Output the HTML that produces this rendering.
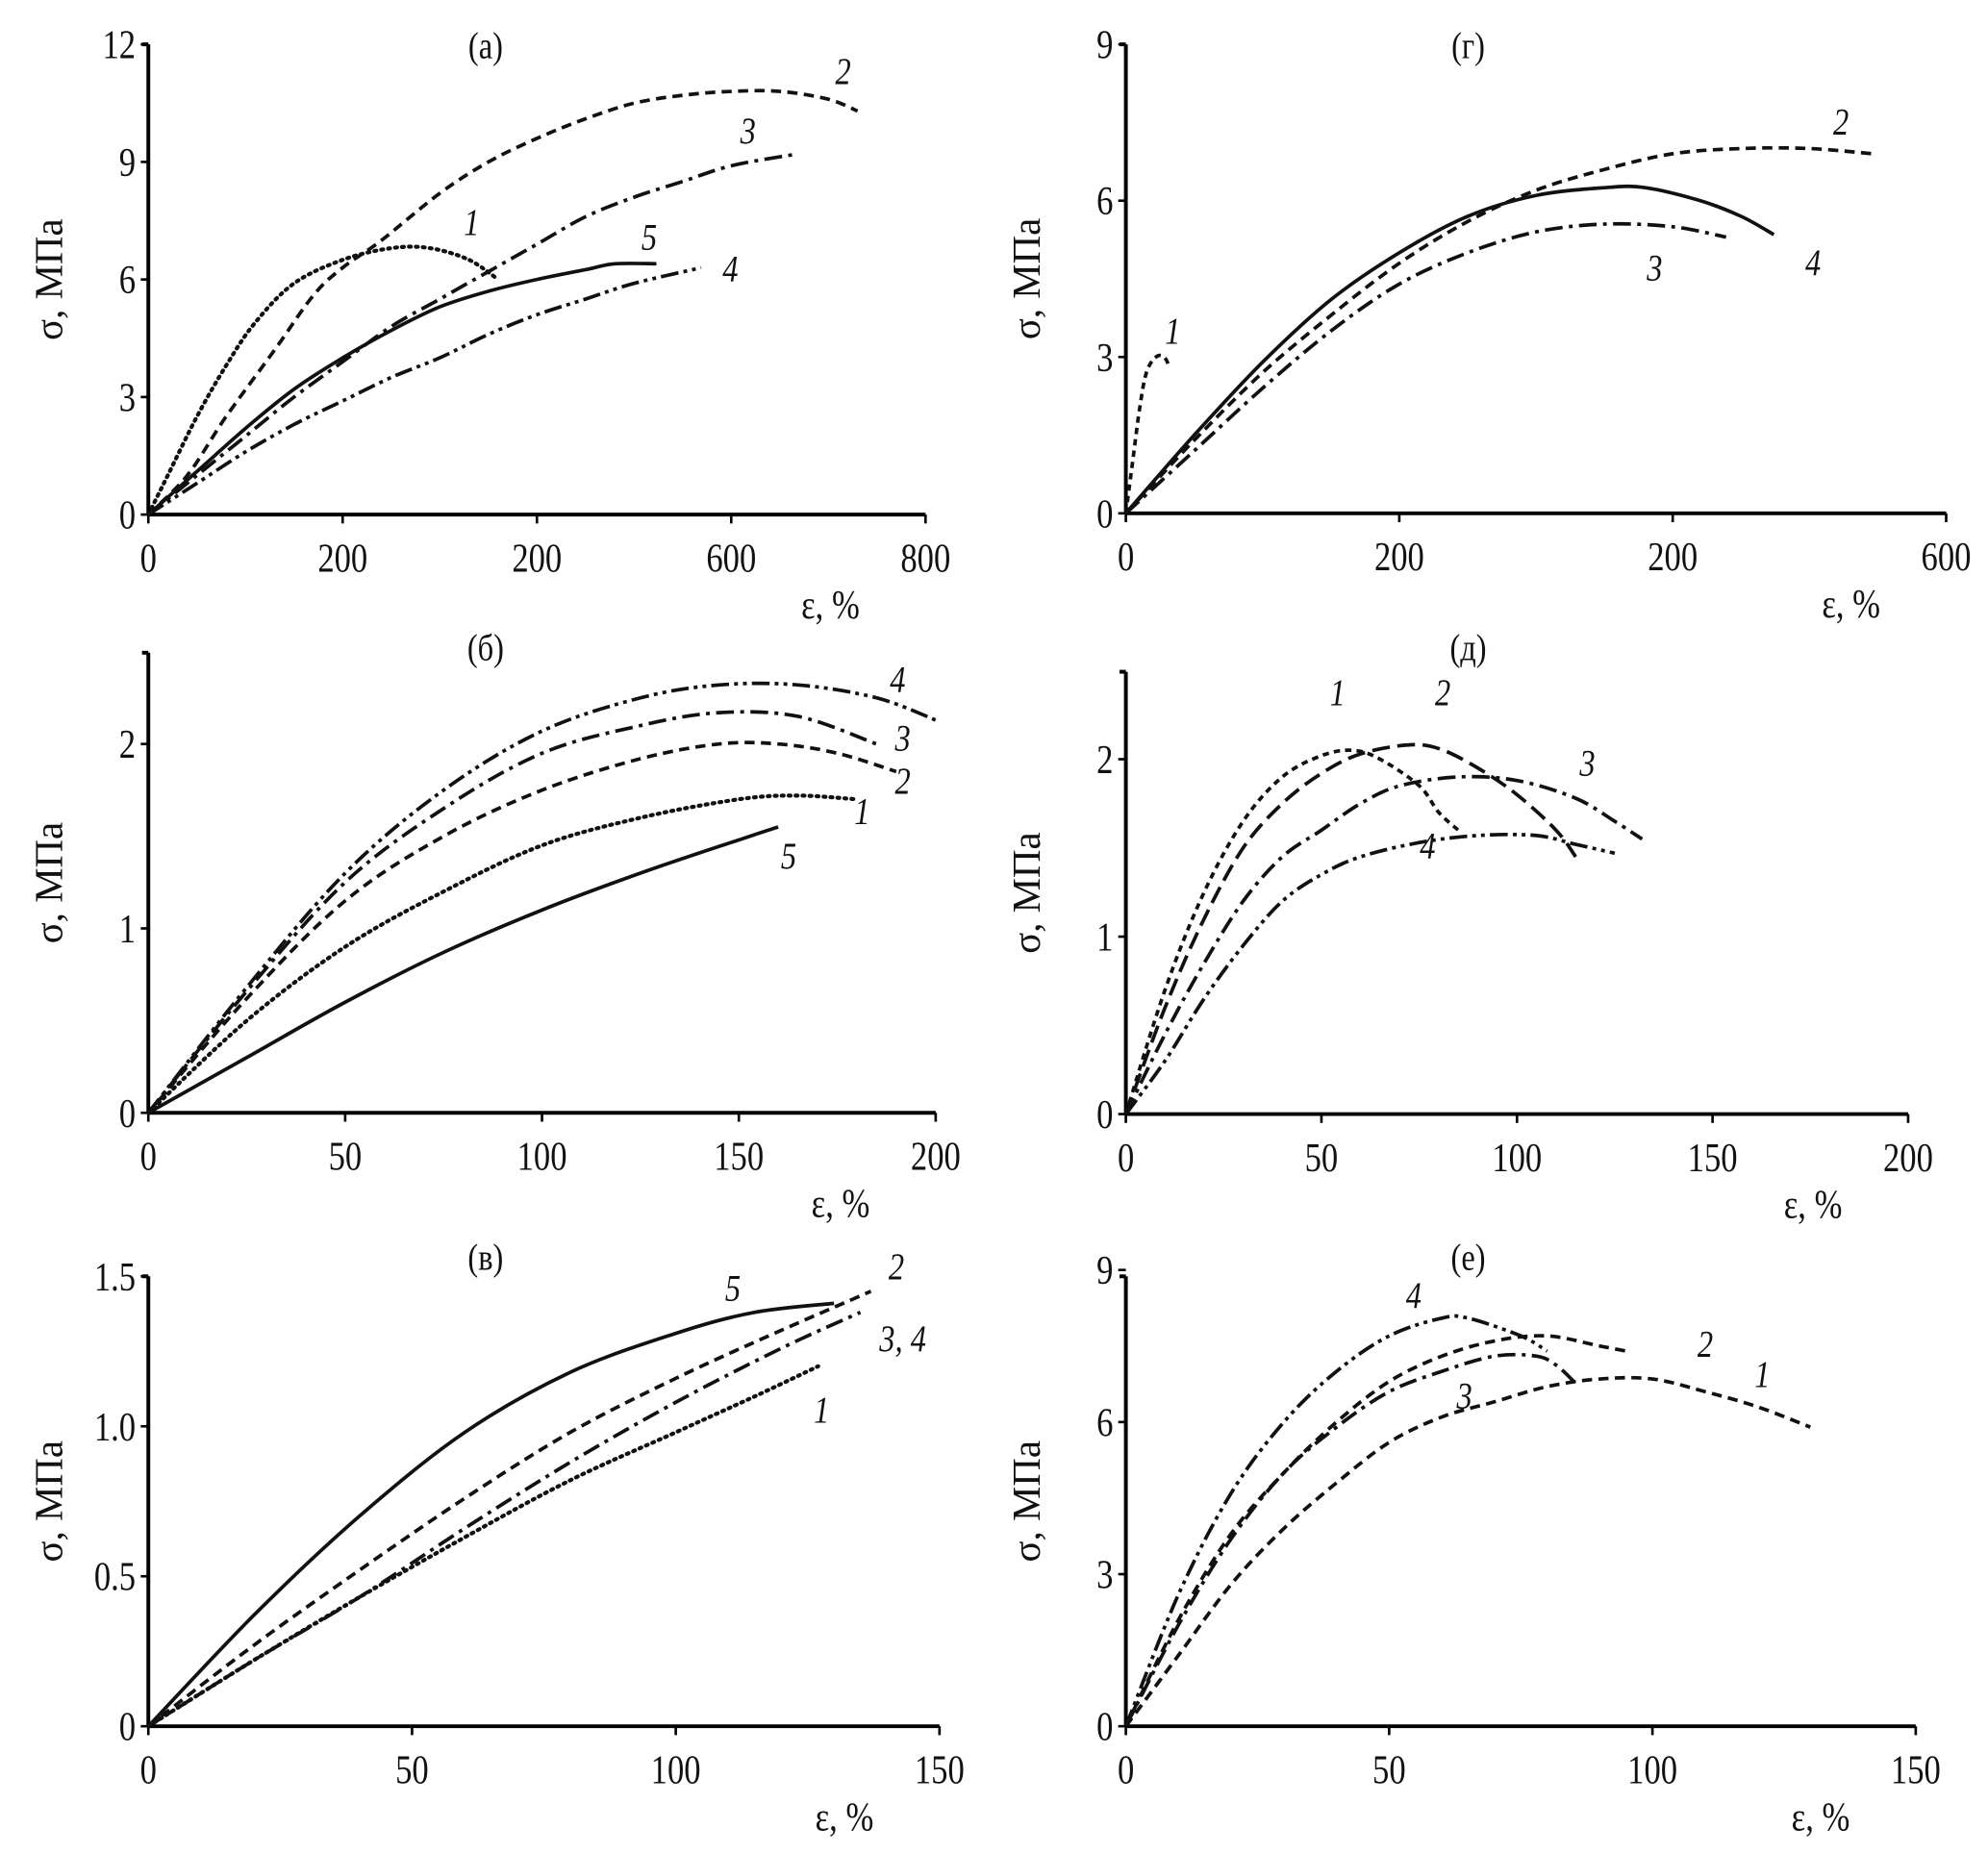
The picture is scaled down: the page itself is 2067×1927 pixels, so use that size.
<!DOCTYPE html>
<html><head><meta charset="utf-8"><style>
html,body{margin:0;padding:0;background:#fff}
svg{display:block}
text{font-family:"Liberation Serif",serif;fill:#111}
</style></head><body>
<svg id="fig" width="2067" height="1927" viewBox="0 0 1568 1462" preserveAspectRatio="none" xmlns="http://www.w3.org/2000/svg"></svg>
<script>
// ---- data ----
const aX1=[0,20,50,80,110,150,200,250,290,330,360], aY1=[0,1,2.5,3.8,4.9,5.9,6.5,6.8,6.8,6.5,6.0];
const aX2=[0,40,80,130,170,200,240,300,350,400,450,500,550,600,650,700,730], aY2=[0,1,2.5,4.2,5.6,6.3,7,8.2,9.0,9.6,10.1,10.5,10.7,10.8,10.8,10.6,10.3];
const aX3=[0,50,100,150,200,250,300,350,400,450,500,550,600,667], aY3=[0,1,2,3,3.9,4.8,5.5,6.2,6.9,7.6,8.1,8.5,8.9,9.2];
const aX4=[0,50,100,150,200,250,300,350,400,450,500,569], aY4=[0,0.8,1.6,2.3,2.9,3.5,4.0,4.6,5.1,5.5,5.9,6.3];
const aX5=[0,50,100,150,200,250,300,350,400,450,480,523], aY5=[0,1.1,2.2,3.2,4.0,4.7,5.3,5.7,6.0,6.25,6.4,6.4];
const gX1=[0,5,10,15,22,28,32], gY1=[0,1,2,2.7,3.0,3.0,2.8];
const gX2=[0,50,100,150,200,250,300,350,400,450,500,546], gY2=[0,1.4,2.7,3.8,4.8,5.6,6.2,6.6,6.9,7.0,7.0,6.9];
const gX3=[0,50,100,150,200,250,300,350,400,439], gY3=[0,1.2,2.4,3.5,4.4,5.0,5.4,5.55,5.5,5.3];
const gX4=[0,50,100,150,200,250,300,350,380,420,450,474], gY4=[0,1.5,2.9,4.1,5.0,5.7,6.1,6.25,6.25,6.0,5.7,5.35];
const bX1=[0,25,50,75,100,125,150,165,180], bY1=[0,0.5,0.9,1.2,1.45,1.6,1.7,1.72,1.7];
const bX2=[0,25,50,75,100,125,145,160,175,190], bY2=[0,0.62,1.15,1.5,1.75,1.92,2.0,2.0,1.95,1.85];
const bX3=[0,25,50,75,100,125,145,165,185], bY3=[0,0.66,1.25,1.65,1.95,2.1,2.17,2.15,2.0];
const bX4=[0,25,50,75,100,125,145,165,185,200], bY4=[0,0.68,1.3,1.75,2.07,2.25,2.32,2.32,2.25,2.13];
const bX5=[0,25,50,75,100,125,150,160], bY5=[0,0.3,0.6,0.87,1.1,1.3,1.48,1.55];
const dX1=[0,10,20,30,40,50,58,65,75,80,85], dY1=[0,0.7,1.25,1.65,1.9,2.02,2.05,2.0,1.85,1.7,1.6];
const dX2=[0,10,20,30,40,50,60,72,80,90,100,110,115], dY2=[0,0.6,1.1,1.5,1.75,1.92,2.03,2.08,2.06,1.95,1.8,1.6,1.45];
const dX3=[0,10,20,30,40,50,60,70,85,100,115,125,132], dY3=[0,0.45,0.85,1.2,1.45,1.6,1.75,1.85,1.9,1.88,1.78,1.65,1.55];
const dX4=[0,10,20,30,40,50,60,75,90,105,115,125], dY4=[0,0.3,0.65,0.95,1.2,1.35,1.45,1.53,1.57,1.57,1.52,1.47];
const vX1=[0,20,40,60,80,100,115,127], vY1=[0,0.22,0.43,0.63,0.82,0.98,1.1,1.2];
const vX2=[0,20,40,60,80,100,120,137], vY2=[0,0.27,0.52,0.76,0.98,1.16,1.32,1.45];
const vX3=[0,20,40,60,80,100,120,135], vY3=[0,0.22,0.43,0.66,0.88,1.08,1.26,1.38];
const vX5=[0,20,40,60,80,100,115,130], vY5=[0,0.37,0.7,0.98,1.18,1.31,1.38,1.41];
const eX1=[0,10,20,30,40,50,60,70,80,90,100,110,120,130], eY1=[0,1.4,2.8,3.9,4.8,5.6,6.1,6.4,6.7,6.85,6.85,6.6,6.3,5.9];
const eX2=[0,10,20,30,40,50,60,70,80,90,95], eY2=[0,2.1,3.8,5.0,6.0,6.8,7.3,7.6,7.7,7.5,7.4];
const eX3=[0,10,20,30,40,50,60,70,78,82,86], eY3=[0,2.0,3.7,5.0,5.9,6.6,7.0,7.3,7.3,7.1,6.7];
const eX4=[0,10,20,30,40,50,60,65,75,80], eY4=[0,2.6,4.6,6.0,7.0,7.7,8.05,8.05,7.7,7.4];
const aXT=["0","200","200","600","800"], aYT=["0","3","6","9","12"];
const gXT=["0","200","200","600"], gYT=["0","3","6","9"];
const bXT=["0","50","100","150","200"], bYT=["0","1","2"];
const dXT=["0","50","100","150","200"], dYT=["0","1","2"];
const vXT=["0","50","100","150"], vYT=["0","0.5","1.0","1.5"];
const eXT=["0","50","100","150"], eYT=["0","3","6","9"];

const DASH={dot:"1.5,4",dash:"8,5",sdash:"5,4",ldash:"14,6",dd:"14,5,3,5",ddd:"14,4,3,4,3,4",solid:""};
const NS="http://www.w3.org/2000/svg", svg=document.getElementById('fig');
function mk(tag,attrs,parent){const e=document.createElementNS(NS,tag);for(const k in attrs)e.setAttribute(k,attrs[k]);(parent||svg).appendChild(e);return e;}
function txt(g,x,y,s,size,anchor,extra){
  const a={x:0,y:0,'font-size':size,'text-anchor':anchor,transform:`translate(${x},${y}) scale(0.82,1)`};
  for(const k in (extra||{}))a[k]=extra[k];
  const t=mk('text',a,g);t.textContent=s;return t;
}
function smooth(P){
  let d='M'+P[0][0].toFixed(1)+','+P[0][1].toFixed(1);
  for(let i=0;i<P.length-1;i++){
    const p0=P[i-1]||P[i],p1=P[i],p2=P[i+1],p3=P[i+2]||p2;
    const c1=[p1[0]+(p2[0]-p0[0])/6,p1[1]+(p2[1]-p0[1])/6];
    const c2=[p2[0]-(p3[0]-p1[0])/6,p2[1]-(p3[1]-p1[1])/6];
    d+=` C${c1[0].toFixed(1)},${c1[1].toFixed(1)} ${c2[0].toFixed(1)},${c2[1].toFixed(1)} ${p2[0].toFixed(1)},${p2[1].toFixed(1)}`;
  }
  return d;
}

function panel(p){
  const g=mk('g',{});
  
  
  const sx=v=>p.x0+(v-0)/p.xmax*(p.x1-p.x0);
  const sy=v=>p.y0-(v)/p.ymax*(p.y0-p.y1);
  const ya=mk('line',{x1:p.x0,y1:p.y0,x2:p.x0,y2:p.ytop,stroke:'#000','stroke-width':3},g);
  
  
  const xa=mk('line',{x1:p.x0,y1:p.y0,x2:p.x1,y2:p.y0,stroke:'#000','stroke-width':3},g);
  
  
  mk('line',{x1:p.x0-5,y1:p.ytop,x2:p.x0,y2:p.ytop,stroke:'#000','stroke-width':3},g);
  p.yt.forEach((t,i)=>{const v=i*p.ymax/(p.yt.length-1);const y=sy(v);
    mk('line',{x1:p.x0-6,y1:y,x2:p.x0,y2:y,stroke:'#000','stroke-width':2},g);
    const tx=txt(g,p.x0-10,y+11,t,32,'end');
    
    });
  p.xt.forEach((t,i)=>{const x=p.x0+i*(p.x1-p.x0)/(p.xt.length-1);
    mk('line',{x1:x,y1:p.y0,x2:x,y2:p.y0+7,stroke:'#000','stroke-width':2},g);
    const tx=txt(g,x,p.y0+45,t,32,'middle');
    
    });
  const ti=txt(g,p.tx,p.ty,p.title,30,'middle');
  
  
  const xl=txt(g,p.x1-75,p.y0+82,'ε, %',32,'middle');
  
  
  const yc=(p.y0+p.ytop)/2;
  const yl=mk('text',{x:0,y:0,'font-size':31,'text-anchor':'middle',transform:`translate(${p.x0-68},${yc}) rotate(-90)`,'font-family':'Liberation Sans, sans-serif'},g);yl.textContent='σ, МПа';
  
  
  p.series.forEach(s=>{
    const P=s.x.map((v,i)=>[sx(v),sy(s.y[i])]);
    const pa=mk('path',{d:smooth(P),fill:'none',stroke:'#111','stroke-width':s.st==='dot'?3.2:2.8,'stroke-dasharray':DASH[s.st],'stroke-linecap':s.st==='dot'?'round':'butt','stroke-linejoin':'round'},g);
    
    
    const lb=txt(g,s.lx,s.ly,s.n,30,'middle',{'font-style':'italic'});
    
    
  });
}
panel({id:'a',title:'(а)',tx:383,ty:46,x0:117,x1:730,xmax:800,y0:406,y1:35,ytop:35,ymax:12,xt:aXT,yt:aYT,series:[
 {n:'1',x:aX1,y:aY1,st:'dot',lx:372,ly:185},{n:'2',x:aX2,y:aY2,st:'dash',lx:665,ly:66},
 {n:'3',x:aX3,y:aY3,st:'dd',lx:590,ly:113},{n:'4',x:aX4,y:aY4,st:'ddd',lx:576,ly:222},{n:'5',x:aX5,y:aY5,st:'solid',lx:512,ly:197}]});
panel({id:'g',title:'(г)',tx:1158,ty:46,x0:888,x1:1535,xmax:600,y0:405,y1:35,ytop:35,ymax:9,xt:gXT,yt:gYT,series:[
 {n:'1',x:gX1,y:gY1,st:'sdash',lx:925,ly:271},{n:'2',x:gX2,y:gY2,st:'dash',lx:1452,ly:106},
 {n:'3',x:gX3,y:gY3,st:'dd',lx:1305,ly:221},{n:'4',x:gX4,y:gY4,st:'solid',lx:1430,ly:217}]});
panel({id:'b',title:'(б)',tx:383,ty:521,x0:117,x1:738,xmax:200,y0:878,y1:587,ytop:515,ymax:2,xt:bXT,yt:bYT,series:[
 {n:'1',x:bX1,y:bY1,st:'dot',lx:680,ly:650},{n:'2',x:bX2,y:bY2,st:'dash',lx:712,ly:626},
 {n:'3',x:bX3,y:bY3,st:'dd',lx:712,ly:592},{n:'4',x:bX4,y:bY4,st:'ddd',lx:708,ly:546},{n:'5',x:bX5,y:bY5,st:'solid',lx:622,ly:685}]});
panel({id:'d',title:'(д)',tx:1158,ty:521,x0:888,x1:1505,xmax:200,y0:879,y1:599,ytop:530,ymax:2,xt:dXT,yt:dYT,series:[
 {n:'1',x:dX1,y:dY1,st:'sdash',lx:1055,ly:556},{n:'2',x:dX2,y:dY2,st:'ldash',lx:1138,ly:556},
 {n:'3',x:dX3,y:dY3,st:'dd',lx:1252,ly:612},{n:'4',x:dX4,y:dY4,st:'ddd',lx:1126,ly:677}]});
panel({id:'v',title:'(в)',tx:383,ty:1002,x0:117,x1:741,xmax:150,y0:1362,y1:1007,ytop:1007,ymax:1.5,xt:vXT,yt:vYT,series:[
 {n:'1',x:vX1,y:vY1,st:'dot',lx:648,ly:1122},{n:'2',x:vX2,y:vY2,st:'dash',lx:707,ly:1009},
 {n:'3, 4',x:vX3,y:vY3,st:'dd',lx:712,ly:1066},{n:'5',x:vX5,y:vY5,st:'solid',lx:578,ly:1026}]});
panel({id:'e',title:'(е)',tx:1158,ty:1002,x0:888,x1:1511,xmax:150,y0:1362,y1:1002,ytop:1007,ymax:9,xt:eXT,yt:eYT,series:[
 {n:'1',x:eX1,y:eY1,st:'dash',lx:1390,ly:1094},{n:'2',x:eX2,y:eY2,st:'dash',lx:1345,ly:1070},
 {n:'3',x:eX3,y:eY3,st:'dd',lx:1155,ly:1111},{n:'4',x:eX4,y:eY4,st:'ddd',lx:1115,ly:1032}]});
</script>
</body></html>
